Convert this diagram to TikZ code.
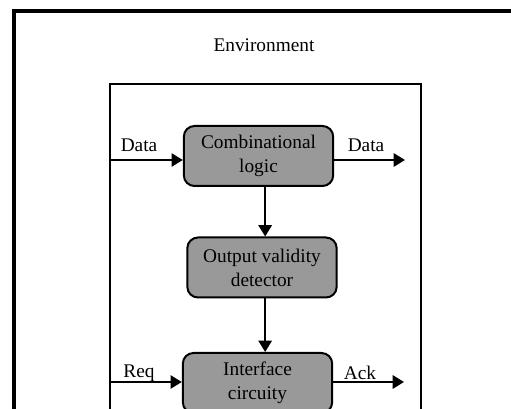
\documentclass[tikz,border=0pt]{standalone}
\usepackage{fontspec}
\setmainfont{Liberation Serif}
\usetikzlibrary{arrows.meta}

\begin{document}
\begin{tikzpicture}
            [x=0.75pt,y=-0.75pt,every node/.style={font=\fontsize{14.5}{18}\selectfont},
             block/.style={draw,line width=1.5pt,rounded corners=8pt,fill=black!40,align=center,minimum width=112pt,minimum height=45pt},
             arr/.style={line width=1.5pt,-{Triangle[length=8.5pt,width=10pt]}}]

            \useasboundingbox (0,0) rectangle (511,409);
            \clip (0,0) rectangle (511,409);
            \fill[white] (0,0) rectangle (511,409);

            \draw[line width=2.6pt] (14,11) rectangle (530,440);
            \draw[line width=2.2pt] (110,84) rectangle (421,440);

            \node (env) at (264,45) {Environment};

            \node[block] (comb) at (258.5,156) {Combinational\\logic};
            \node[block] (valid) at (262,267.5) {Output validity\\detector};
            \node[block] (iface) at (257.5,383) {Interface\\circuity};

            \coordinate (din) at (110,160);
            \coordinate (dout) at (405,160);
            \coordinate (req) at (110,382);
            \coordinate (ack) at (404,382);

            \node (ldin) at (139,145) {Data};
            \node (ldout) at (366,145) {Data};
            \node (lreq) at (139,373) {Req};
            \node (lack) at (360,373) {Ack};

            \draw[arr] (din) -- (din -| comb.west);
            \draw[arr] (dout -| comb.east) -- (dout);
            \draw[arr] ([xshift=5pt]comb.south) -- ([xshift=5pt]comb.south |- valid.north);
            \draw[arr] ([xshift=5pt]comb.south |- valid.south) -- ([xshift=5pt]comb.south |- iface.north);
            \draw[arr] (req) -- (req -| iface.west);
            \draw[arr] (req -| iface.east) -- (ack);
          \end{tikzpicture}
\end{document}
